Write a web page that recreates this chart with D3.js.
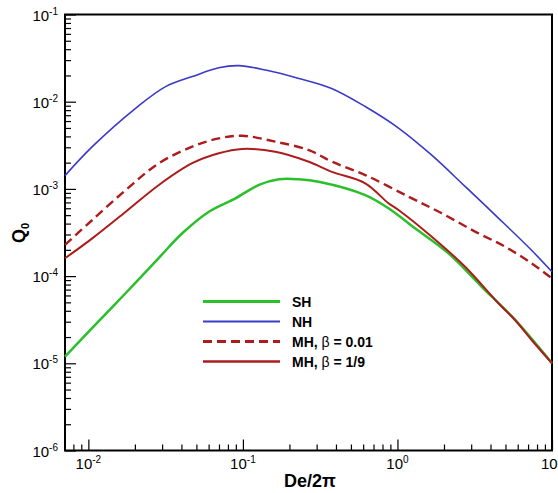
<!DOCTYPE html>
<html>
<head>
<meta charset="utf-8">
<script src="https://cdn.jsdelivr.net/npm/d3@7"></script>
<style>
  body { margin: 0; background: #fff; }
  svg { display: block; font-family: "Liberation Sans", Arial, sans-serif; }
</style>
</head>
<body>
<div id="chart"></div>
<script>
// (x = De/2pi, y = Q0)
var shX = [0.00706, 0.0106, 0.01746, 0.0286, 0.0405, 0.0603, 0.0895, 0.127, 0.171, 0.23, 0.309, 0.619, 0.875, 1.30, 2.138, 3.51, 5.77, 10];
var shQ = [1.19e-5, 2.55e-5, 6.4e-5, 1.62e-4, 3.10e-4, 5.48e-4, 7.8e-4, 1.11e-3, 1.29e-3, 1.29e-3, 1.21e-3, 8.5e-4, 6.0e-4, 3.53e-4, 1.82e-4, 7.55e-5, 3.14e-5, 1.0e-5];

var nhX = [0.00706, 0.0106, 0.0202, 0.0316, 0.047, 0.0698, 0.094, 0.14, 0.23, 0.375, 0.622, 1.016, 1.66, 2.75, 4.50, 7.35, 10];
var nhQ = [1.42e-3, 3.05e-3, 8.4e-3, 1.49e-2, 1.94e-2, 2.45e-2, 2.59e-2, 2.31e-2, 1.85e-2, 1.42e-2, 8.75e-3, 4.99e-3, 2.45e-3, 1.06e-3, 4.63e-4, 1.99e-4, 1.12e-4];

var mh1X = [0.00706, 0.0106, 0.01746, 0.0286, 0.047, 0.0698, 0.0989, 0.162, 0.267, 0.377, 0.619, 1.18, 1.936, 3.18, 4.98, 7.38, 10];
var mh1Q = [2.28e-4, 4.40e-4, 9.7e-4, 1.97e-3, 3.05e-3, 3.80e-3, 4.07e-3, 3.48e-3, 2.79e-3, 2.05e-3, 1.44e-3, 8.15e-4, 5.25e-4, 3.24e-4, 2.17e-4, 1.40e-4, 9.4e-5];

var mh2X = [0.00706, 0.0106, 0.01746, 0.0286, 0.047, 0.0698, 0.0989, 0.162, 0.267, 0.377, 0.619, 0.875, 1.016, 1.667, 2.74, 4.50, 5.77, 7.38, 10];
var mh2Q = [1.60e-4, 2.71e-4, 5.48e-4, 1.11e-3, 1.97e-3, 2.56e-3, 2.87e-3, 2.67e-3, 2.05e-3, 1.57e-3, 1.16e-3, 6.84e-4, 5.73e-4, 2.83e-4, 1.28e-4, 4.88e-5, 3.14e-5, 1.85e-5, 1.0e-5];

var seriesNames = ["SH", "NH", "MH, β = 0.01", "MH, β = 1/9"];
var xTickExp = [-2, -1, 0, 1];
var yTickExp = [-6, -5, -4, -3, -2, -1];

var box = { left: 65, right: 552, top: 14.5, bottom: 450.5 };

var svg = d3.select("#chart").append("svg")
  .attr("width", 558)
  .attr("height", 493);

var x = d3.scaleLog().domain([0.00706, 10]).range([box.left, box.right]);
var y = d3.scaleLog().domain([1e-6, 1e-1]).range([box.bottom, box.top]);

/* minor tick values */
var xMinor = [], yMinor = [];
[-3, -2, -1, 0].forEach((e) => {
  for (let m = 2; m <= 9; m++) {
    let v = m * Math.pow(10, e);
    if (v > 0.0072 && v < 10) xMinor.push(v);
  }
});
[-6, -5, -4, -3, -2].forEach((e) => {
  for (let m = 2; m <= 9; m++) yMinor.push(m * Math.pow(10, e));
});

/* axes, ticks pointing inward */
function styleAxis(g) {
  g.select(".domain").remove();
  g.selectAll("line").attr("stroke", "#000").attr("stroke-width", 1.2);
  g.selectAll("text").remove();
}

svg.append("g")
  .attr("transform", `translate(0,${box.bottom})`)
  .call(d3.axisTop(x).tickValues(xTickExp.map((e) => Math.pow(10, e))).tickSize(11).tickSizeOuter(0))
  .call(styleAxis);
svg.append("g")
  .attr("transform", `translate(0,${box.bottom})`)
  .call(d3.axisTop(x).tickValues(xMinor).tickSize(6).tickSizeOuter(0))
  .call(styleAxis);
svg.append("g")
  .attr("transform", `translate(${box.left},0)`)
  .call(d3.axisRight(y).tickValues(yTickExp.map((e) => Math.pow(10, e))).tickSize(11).tickSizeOuter(0))
  .call(styleAxis);
svg.append("g")
  .attr("transform", `translate(${box.left},0)`)
  .call(d3.axisRight(y).tickValues(yMinor).tickSize(6).tickSizeOuter(0))
  .call(styleAxis);

/* frame */
svg.append("rect")
  .attr("x", box.left)
  .attr("y", box.top)
  .attr("width", box.right - box.left)
  .attr("height", box.bottom - box.top)
  .attr("fill", "none")
  .attr("stroke", "#000")
  .attr("stroke-width", 2);

/* tick labels 10^n */
svg.append("g").selectAll("text")
  .data(xTickExp)
  .enter()
  .append("text")
  .attr("x", (d) => x(Math.pow(10, d)))
  .attr("y", 469)
  .attr("text-anchor", "middle")
  .style("font-size", "15px")
  .each(function(d) {
    let t = d3.select(this);
    t.append("tspan").text("10");
    t.append("tspan").attr("dy", -6).style("font-size", "10px").text(d);
  });

svg.append("g").selectAll("text")
  .data(yTickExp)
  .enter()
  .append("text")
  .attr("x", 58)
  .attr("y", (d) => y(Math.pow(10, d)) + 6)
  .attr("text-anchor", "end")
  .style("font-size", "15px")
  .each(function(d) {
    let t = d3.select(this);
    t.append("tspan").text("10");
    t.append("tspan").attr("dy", -6).style("font-size", "10px").text(d);
  });

/* axis titles */
svg.append("text")
  .attr("x", 310)
  .attr("y", 487)
  .attr("text-anchor", "middle")
  .style("font-size", "18px")
  .style("font-weight", "bold")
  .text("De/2π");

var yt = svg.append("text")
  .attr("transform", "translate(25,233) rotate(-90)")
  .attr("text-anchor", "middle")
  .style("font-size", "18px")
  .style("font-weight", "bold");
yt.append("tspan").text("Q");
yt.append("tspan").attr("dy", 4).style("font-size", "11px").text("0");

/* curves */
var line = d3.line()
  .x((d) => x(d[0]))
  .y((d) => y(d[1]))
  .curve(d3.curveCatmullRom.alpha(0.5));

var series = [
  { x: shX, q: shQ, color: "#2cbf2c", width: 2.5, dash: null },
  { x: nhX, q: nhQ, color: "#3a3ac8", width: 1.6, dash: null },
  { x: mh1X, q: mh1Q, color: "#ac1c1c", width: 2.4, dash: "9,5" },
  { x: mh2X, q: mh2Q, color: "#ac1c1c", width: 2, dash: null },
];

svg.append("g").selectAll("path")
  .data(series)
  .enter()
  .append("path")
  .attr("d", (s) => line(s.x.map((v, i) => [v, s.q[i]])))
  .style("fill", "none")
  .style("stroke", (s) => s.color)
  .style("stroke-width", (s) => s.width)
  .style("stroke-dasharray", (s) => s.dash);

/* legend */
var legend = svg.append("g").selectAll("g")
  .data(series)
  .enter()
  .append("g")
  .attr("transform", (d, i) => `translate(203,${301.5 + i * 20})`);

legend.append("line")
  .attr("x1", 0)
  .attr("x2", 77)
  .style("stroke", (s) => s.color)
  .style("stroke-width", (s) => s.width + 0.5)
  .style("stroke-dasharray", (s) => s.dash);

legend.append("text")
  .attr("x", 89)
  .attr("y", 5)
  .style("font-size", "14px")
  .style("font-weight", "bold")
  .each(function(d, i) {
    let name = seriesNames[i];
    let t = d3.select(this);
    if (name.indexOf("β") < 0) {
      t.text(name);
    } else {
      let parts = name.split("β");
      t.append("tspan").text(parts[0]);
      t.append("tspan").style("font-weight", "normal").text("β");
      t.append("tspan").text(parts[1]);
    }
  });
</script>
</body>
</html>
